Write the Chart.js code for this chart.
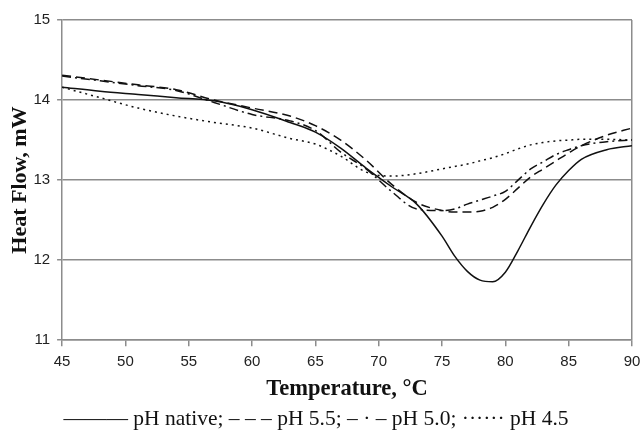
<!DOCTYPE html>
<html>
<head>
<meta charset="utf-8">
<script src="https://cdn.jsdelivr.net/npm/chart.js@4"></script>
<style>
  html, body { margin: 0; padding: 0; background: #fff; }
  #wrap { width: 641px; height: 432px; }
</style>
</head>
<body>
<div id="wrap"><canvas id="dsc" width="641" height="432"></canvas></div>
<script>
// temperatures (°C) shared by all four curves
const temps = [45, 48, 51, 54, 57, 60, 63, 65, 67, 69, 71, 73, 75, 76, 77, 78, 79, 80, 81, 82, 83, 84, 85, 86, 88, 90];

// heat flow, mW
const phNative = [14.16, 14.11, 14.07, 14.03, 13.99, 13.88, 13.72, 13.60, 13.40, 13.15, 12.92, 12.70, 12.30, 12.05, 11.86, 11.75, 11.73, 11.85, 12.12, 12.42, 12.70, 12.94, 13.12, 13.26, 13.38, 13.43];
const ph55 = [14.31, 14.25, 14.19, 14.13, 14.00, 13.90, 13.80, 13.68, 13.50, 13.25, 12.95, 12.72, 12.62, 12.60, 12.60, 12.61, 12.66, 12.76, 12.90, 13.04, 13.14, 13.24, 13.34, 13.43, 13.56, 13.65];
const ph50 = [14.30, 14.24, 14.18, 14.12, 13.97, 13.82, 13.74, 13.62, 13.35, 13.14, 12.86, 12.64, 12.62, 12.64, 12.70, 12.75, 12.80, 12.86, 13.00, 13.14, 13.23, 13.32, 13.38, 13.43, 13.48, 13.50];
const ph45 = [14.16, 14.03, 13.90, 13.80, 13.72, 13.65, 13.52, 13.45, 13.30, 13.10, 13.05, 13.08, 13.14, 13.17, 13.20, 13.24, 13.28, 13.33, 13.39, 13.44, 13.47, 13.49, 13.50, 13.51, 13.51, 13.50];

const xTicks = [45, 50, 55, 60, 65, 70, 75, 80, 85, 90];
const yTicks = [11, 12, 13, 14, 15];

const caption = "——— pH native; – – – pH 5.5; – · – pH 5.0; ······ pH 4.5";

function series(label, values, dash) {
    return {
        label: label,
        data: temps.map((t, i) => ({ x: t, y: values[i] })),
        borderColor: "#111",
        borderWidth: 1.5,
        borderDash: dash,
        pointRadius: 0,
        fill: false,
        cubicInterpolationMode: "monotone"
    };
}

const gridGray = "#8c8c8c";
const tickFont = { family: "'Liberation Sans', Arial, sans-serif", size: 15 };
const serif = "'Liberation Serif', 'Times New Roman', serif";

new Chart(document.getElementById("dsc").getContext("2d"), {
    type: "line",
    data: {
        datasets: [
            series("pH native", phNative, []),
            series("pH 5.5", ph55, [9, 5]),
            series("pH 5.0", ph50, [9, 4, 2, 4]),
            series("pH 4.5", ph45, [2, 4])
        ]
    },
    options: {
        responsive: false,
        animation: false,
        layout: { padding: { left: 0, right: 9, top: 20, bottom: 0 } },
        plugins: {
            legend: { display: false },
            tooltip: { enabled: false },
            title: {
                display: true,
                position: "bottom",
                text: caption,
                color: "#111",
                font: { family: serif, size: 21.5, weight: "normal" },
                padding: { top: 4, bottom: 0 }
            }
        },
        scales: {
            x: {
                type: "linear",
                min: 45,
                max: 90,
                afterBuildTicks: (scale) => { scale.ticks = xTicks.map(v => ({ value: v })); },
                afterFit: (scale) => { scale.paddingRight = 0; scale.paddingLeft = 0; },
                ticks: { color: "#222", font: tickFont, padding: 7, maxRotation: 0 },
                grid: {
                    color: (ctx) => ctx.tick && ctx.tick.value === 90 ? gridGray : "transparent",
                    tickColor: gridGray,
                    tickLength: 6,
                    lineWidth: 1.5
                },
                border: { color: gridGray, width: 1.5 },
                title: {
                    display: true,
                    text: "Temperature, °C",
                    color: "#111",
                    font: { family: serif, size: 22.5, weight: "bold" },
                    padding: { top: -3, bottom: 0 }
                }
            },
            y: {
                min: 11,
                max: 15,
                afterBuildTicks: (scale) => { scale.ticks = yTicks.map(v => ({ value: v })); },
                ticks: { color: "#222", font: tickFont, padding: 7 },
                grid: {
                    color: gridGray,
                    tickColor: gridGray,
                    tickLength: 5,
                    lineWidth: 1.5
                },
                border: { color: gridGray, width: 1.5 },
                title: {
                    display: true,
                    text: "Heat Flow, mW",
                    color: "#111",
                    font: { family: serif, size: 22, weight: "bold" },
                    padding: { top: 7, bottom: -7 }
                }
            }
        }
    }
});
</script>
</body>
</html>
